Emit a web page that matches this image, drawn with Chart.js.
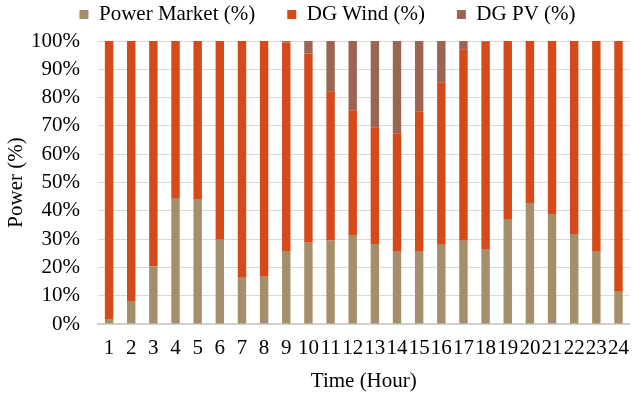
<!DOCTYPE html>
<html>
<head>
<meta charset="utf-8">
<script src="https://cdn.jsdelivr.net/npm/chart.js@4"></script>
<style>
  html, body { margin: 0; padding: 0; background: #fff; }
  #wrap { width: 641px; height: 394px; }
</style>
</head>
<body>
<div id="wrap"><canvas id="chart"></canvas></div>
<script>
const hours = ['1','2','3','4','5','6','7','8','9','10','11','12','13','14','15','16','17','18','19','20','21','22','23','24'];
const marketShare = [1.5, 7.9, 20.3, 44.3, 43.9, 29.8, 16.3, 16.7, 25.5, 28.7, 29.5, 31.2, 28.3, 25.5, 25.5, 28.0, 29.4, 26.2, 36.8, 42.8, 38.9, 31.8, 25.5, 11.4];
const windShare = [98.5, 92.1, 79.7, 55.7, 56.1, 70.2, 83.7, 83.3, 74.0, 66.9, 52.7, 44.3, 41.2, 41.9, 49.7, 57.4, 67.7, 73.5, 63.2, 57.2, 61.1, 68.2, 74.5, 88.6];
const pvShare = [0, 0, 0, 0, 0, 0, 0, 0, 0.5, 4.4, 17.8, 24.5, 30.5, 32.6, 24.8, 14.6, 2.9, 0.3, 0, 0, 0, 0, 0, 0];
const yTicks = [0, 10, 20, 30, 40, 50, 60, 70, 80, 90, 100];

const font = { family: "'Liberation Serif', 'Times New Roman', serif", size: 21 };

// nudge the legend so it sits where the original one does
const legendShift = {
  id: 'legendShift',
  afterLayout(chart) {
    if (chart.legend) {
      chart.legend.left += 14;
      chart.legend.top -= 6;
    }
  }
};

new Chart(document.getElementById('chart'), {
  type: 'bar',
  data: {
    labels: hours,
    datasets: [
      { label: 'Power Market (%)', data: marketShare, backgroundColor: '#a58f6a' },
      { label: 'DG Wind (%)', data: windShare, backgroundColor: '#d54a18' },
      { label: 'DG PV (%)', data: pvShare, backgroundColor: '#9b6551' }
    ]
  },
  options: {
    responsive: true,
    maintainAspectRatio: false,
    animation: false,
    datasets: { bar: { barPercentage: 0.38, categoryPercentage: 1 } },
    layout: { padding: { top: -22, left: 0, right: 0, bottom: 0 } },
    plugins: {
      legend: {
        position: 'top',
        labels: {
          font: font,
          color: '#000',
          boxWidth: 9,
          boxHeight: 9,
          padding: 32
        }
      },
      tooltip: { enabled: false }
    },
    scales: {
      x: {
        stacked: true,
        grid: { display: false, drawTicks: false },
        border: { color: '#d0d0d0', width: 2 },
        ticks: { font: font, color: '#000', padding: 12, maxRotation: 0, autoSkip: false },
        title: { display: true, text: 'Time (Hour)', font: font, color: '#000', padding: { top: 4, bottom: 0 } },
        afterFit(scale) { scale.height = 70; }
      },
      y: {
        stacked: true,
        min: 0,
        max: 100,
        afterBuildTicks(scale) { scale.ticks = yTicks.map(v => ({ value: v })); },
        grid: { color: '#d9d9d9', drawTicks: false },
        border: { display: false },
        ticks: {
          font: font,
          color: '#000',
          padding: 18,
          autoSkip: false,
          callback: function(value) { return value + '%'; }
        },
        title: { display: true, text: 'Power (%)', font: font, color: '#000', padding: { top: 4, bottom: 0 } },
        afterFit(scale) { scale.width = 98; }
      }
    }
  },
  plugins: [legendShift]
});
</script>
</body>
</html>
